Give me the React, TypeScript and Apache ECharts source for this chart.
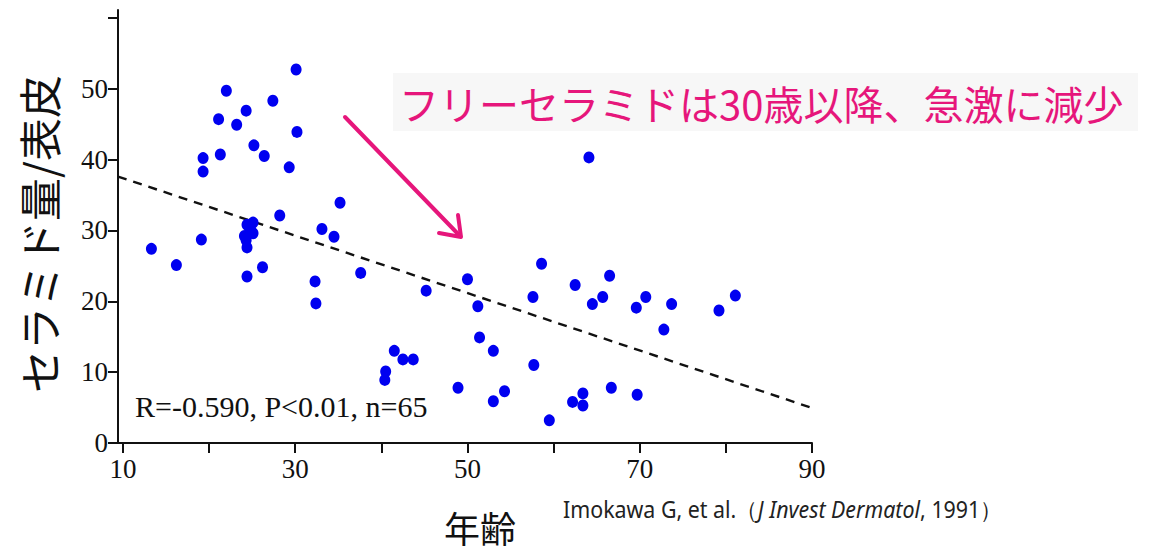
import React, { useEffect, useRef } from "react";
import * as echarts from "echarts";

// Age (years) of each subject
const ages: number[] = [
  13.3, 16.2, 19.1, 19.3, 19.3, 21.1, 21.3, 22.0, 23.2, 24.3,
  25.2, 26.4, 27.4, 28.2, 29.3, 30.1, 30.2, 33.1, 34.5, 35.2,
  24.4, 25.1, 25.1, 24.3, 24.4, 24.4, 26.2, 32.3, 32.4, 37.6,
  45.2, 50.0, 51.2, 51.4, 53.0, 41.5, 42.5, 43.7, 40.5, 40.4,
  48.9, 53.0, 54.3, 57.7, 57.6, 58.6, 59.5, 62.5, 66.5, 64.5,
  65.7, 69.6, 70.7, 73.7, 72.8, 79.2, 81.1, 62.2, 63.4, 63.4,
  66.7, 69.7, 64.1, 24.8, 24.1,
];
// Free ceramide per epidermis
const ceramide: number[] = [
  27.4, 25.1, 28.7, 40.2, 38.3, 45.7, 40.7, 49.7, 44.9, 46.9,
  42.0, 40.5, 48.3, 32.1, 38.9, 52.7, 43.9, 30.2, 29.1, 33.9,
  30.8, 31.1, 29.6, 28.6, 27.6, 23.5, 24.8, 22.8, 19.7, 24.0,
  21.5, 23.1, 19.3, 14.9, 13.0, 13.0, 11.8, 11.8, 10.1, 8.9,
  7.8, 5.9, 7.3, 11.0, 20.6, 25.3, 3.2, 22.3, 23.6, 19.6,
  20.6, 19.1, 20.6, 19.6, 16.0, 18.7, 20.8, 5.8, 7.0, 5.3,
  7.8, 6.8, 40.3, 30.1, 29.2,
];
// Regression line end points
const trendX: number[] = [9.42, 90];
const trendY: number[] = [37.6, 4.95];

const xTicks: number[] = [10, 20, 30, 40, 50, 60, 70, 80, 90];
const xLabels: number[] = [10, 30, 50, 70, 90];
const yTicks: number[] = [0, 10, 20, 30, 40, 50, 60];
const yLabels: number[] = [0, 10, 20, 30, 40, 50];

const PINK = "#e6167b";

export default function App() {
  const ref = useRef<HTMLDivElement>(null);
  useEffect(() => {
    if (!ref.current) return;
    const chart = echarts.init(ref.current, null, { renderer: "svg" });
    const points = ages.map((a, i) => [a, ceramide[i]]);
    const trend = trendX.map((x, i) => [x, trendY[i]]);
    chart.setOption({
      animation: false,
      backgroundColor: "#ffffff",
      grid: { left: 118, right: 337, top: 10, bottom: 112, containLabel: false },
      xAxis: {
        type: "value",
        min: 9.42,
        max: 90,
        splitLine: { show: false },
        axisLine: { show: true, onZero: false, lineStyle: { color: "#111", width: 2 } },
        axisTick: {
          show: true,
          length: 10,
          customValues: xTicks,
          lineStyle: { color: "#111", width: 2 },
        },
        axisLabel: {
          customValues: xLabels,
          margin: 12,
          color: "#111",
          fontFamily: "Liberation Serif",
          fontSize: 27,
        },
      },
      yAxis: {
        type: "value",
        min: 0,
        max: 61.1,
        splitLine: { show: false },
        axisLine: { show: true, onZero: false, lineStyle: { color: "#111", width: 2 } },
        axisTick: {
          show: true,
          length: 10,
          customValues: yTicks,
          lineStyle: { color: "#111", width: 2 },
        },
        axisLabel: {
          customValues: yLabels,
          margin: 10,
          color: "#111",
          fontFamily: "Liberation Serif",
          fontSize: 27,
        },
      },
      series: [
        {
          type: "line",
          data: trend,
          symbol: "none",
          silent: true,
          lineStyle: { color: "#111", width: 2.4, type: [9, 7] },
          z: 2,
        },
        {
          type: "scatter",
          data: points,
          symbol: "circle",
          symbolSize: [11, 12],
          itemStyle: { color: "#0000f0", opacity: 1 },
          z: 3,
        },
      ],
      graphic: [
        {
          type: "rect",
          shape: { x: 393, y: 73, width: 745, height: 58 },
          style: { fill: "#f7f7f7" },
          z: 1,
        },
        {
          type: "text",
          x: 399,
          y: 103,
          style: {
            text: "フリーセラミドは30歳以降、急激に減少",
            fontFamily: "Noto Sans CJK JP",
            fontSize: 40,
            fill: PINK,
            align: "left",
            verticalAlign: "middle",
          },
          z: 5,
        },
        {
          type: "line",
          shape: { x1: 345, y1: 117, x2: 460, y2: 236 },
          style: { stroke: PINK, lineWidth: 4, lineCap: "round" },
          z: 5,
        },
        {
          type: "polyline",
          shape: { points: [[439, 233], [461, 237], [458, 215]] },
          style: { stroke: PINK, lineWidth: 4, fill: "none", lineCap: "round", lineJoin: "round" },
          z: 5,
        },
        {
          type: "text",
          x: 135,
          y: 406,
          style: {
            text: "R=-0.590, P<0.01, n=65",
            fontFamily: "Liberation Serif",
            fontSize: 30,
            fill: "#111",
            align: "left",
            verticalAlign: "middle",
          },
          z: 5,
        },
        {
          type: "text",
          x: 38,
          y: 234,
          rotation: Math.PI / 2,
          style: {
            text: "セラミド量/表皮",
            fontFamily: "Noto Sans CJK JP",
            fontSize: 43,
            fill: "#111",
            align: "center",
            verticalAlign: "middle",
          },
          z: 5,
        },
        {
          type: "text",
          x: 480,
          y: 527,
          style: {
            text: "年齢",
            fontFamily: "Noto Sans CJK JP",
            fontSize: 36,
            fill: "#111",
            align: "center",
            verticalAlign: "middle",
          },
          z: 5,
        },
        {
          type: "text",
          x: 563,
          y: 509,
          scaleX: 0.93,
          style: {
            text: "{n|Imokawa G, et al.（}{i|J Invest Dermatol}{n|, 1991）}",
            align: "left",
            verticalAlign: "middle",
            rich: {
              n: { fontFamily: "Noto Sans", fontSize: 23, fill: "#222" },
              i: { fontFamily: "Noto Sans", fontSize: 23, fontStyle: "italic", fill: "#222" },
            },
          },
          z: 5,
        },
      ],
    });
    return () => chart.dispose();
  }, []);
  return (
    <div
      ref={ref}
      style={{ position: "absolute", left: 0, top: 0, width: 1149, height: 555 }}
    />
  );
}
